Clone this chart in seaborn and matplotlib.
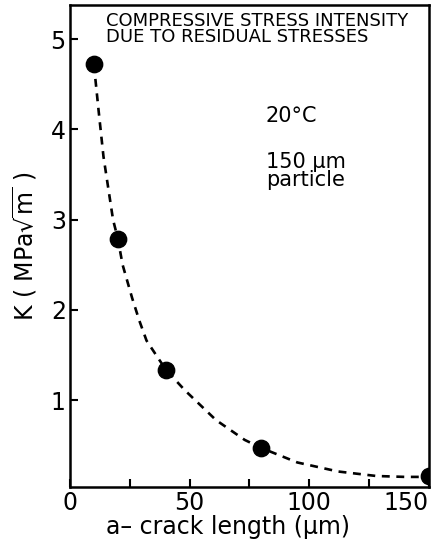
import matplotlib
matplotlib.use('Agg')
import matplotlib.pyplot as plt
import seaborn as sns

# Dane
crack_um = [10, 20, 40, 80, 150]
k_mpa = [4.72, 2.79, 1.34, 0.47, 0.16]

# przerywana krzywa
curve_x = [10, 12, 14, 16, 18, 20, 22, 26, 29, 32, 40, 48, 61, 73, 80, 95, 112, 128, 140, 148]
curve_y = [4.72, 4.2, 3.7, 3.35, 3.0, 2.79, 2.5, 2.13, 1.88, 1.66, 1.34, 1.11, 0.78, 0.56, 0.47, 0.31, 0.21, 0.16, 0.15, 0.15]

x_ticks = [0, 25, 50, 75, 100, 125, 150]
x_labels = ['0', '', '50', '', '100', '', '150']
y_ticks = [1, 2, 3, 4, 5]

sns.set_style('ticks', rc={'text.color': 'black', 'axes.labelcolor': 'black',
                           'xtick.color': 'black', 'ytick.color': 'black'})
plt.rcParams['font.family'] = ['DejaVu Sans']

fig = plt.figure(figsize=(4.4, 5.47), dpi=100)
ax = fig.add_axes([0.159, 0.11, 0.816, 0.881])

sns.lineplot(x=curve_x, y=curve_y, ax=ax, color='black', lw=1.9, linestyle=(0, (3, 2.5)), sort=False)
sns.scatterplot(x=crack_um, y=k_mpa, ax=ax, color='black', s=140, edgecolor='black', zorder=5, clip_on=True)

ax.set_xlim(0, 150)
ax.set_ylim(0.04, 5.38)
ax.set_xticks(x_ticks)
ax.set_xticklabels(x_labels)
ax.set_yticks(y_ticks)
ax.tick_params(direction='in', length=6, width=1.5, labelsize=17, pad=3)
ax.get_xticklabels()[-1].set_horizontalalignment('right')
for s in ax.spines.values():
    s.set_linewidth(1.8)
    s.set_color('black')

ax.set_xlabel('a\u2013 crack length (\u03bcm)', fontsize=17)
ax.xaxis.set_label_coords(0.44, -0.058)
ax.set_ylabel(r'K ( MPa$\sqrt{\mathrm{m}}$ )', fontsize=17, labelpad=8)

ax.text(0.1, 0.985, 'COMPRESSIVE STRESS INTENSITY\nDUE TO RESIDUAL STRESSES',
        transform=ax.transAxes, fontsize=13, va='top', ha='left', linespacing=0.85)
ax.text(0.545, 0.79, '20\u00b0C', transform=ax.transAxes, fontsize=15, va='top')
ax.text(0.545, 0.695, '150 \u03bcm\nparticle', transform=ax.transAxes, fontsize=15, va='top', linespacing=0.85)

fig.savefig('out.png', dpi=100)
